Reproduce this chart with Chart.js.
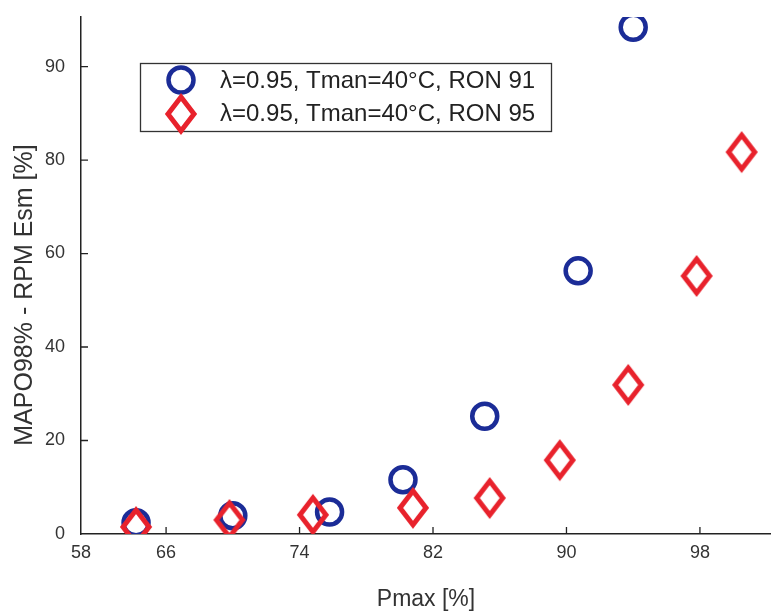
<!DOCTYPE html>
<html>
<head>
<meta charset="utf-8">
<script src="https://cdn.jsdelivr.net/npm/chart.js@4.4.0/dist/chart.umd.min.js"></script>
<style>
  html, body { margin: 0; padding: 0; background: #fff; }
  #wrap { width: 771px; height: 615px; }
</style>
</head>
<body>
<div id="wrap"><canvas id="knockChart" width="771" height="615"></canvas></div>
<script>
// values (x = Pmax %, y = MAPO98% - RPM Esm %)
const ron91Pmax = [64.2, 70.0, 75.8, 80.2, 85.1, 90.7, 94.0];
const ron91Esm = [2.4, 3.9, 4.7, 11.6, 25.2, 56.3, 108.4];
const ron95Pmax = [64.2, 69.8, 74.8, 80.8, 85.4, 89.6, 93.7, 97.8, 100.5];
const ron95Esm = [1.5, 3.0, 4.1, 5.6, 7.7, 15.8, 31.9, 55.2, 81.7];

// tick labels as printed on the original axes
const xTickValues = [60.9, 66, 74, 82, 90, 98];
const xTickLabels = ['58', '66', '74', '82', '90', '98'];
const yTickValues = [0, 20, 40, 60, 80, 100];
const yTickLabels = ['0', '20', '40', '60', '80', '90'];

const seriesLabels = ['λ=0.95, Tman=40°C, RON 91', 'λ=0.95, Tman=40°C, RON 95'];
const yTitle = 'MAPO98% - RPM Esm [%]';

const BLUE = '#1b2c97';
const RED = '#e8222c';
const FONT = '"Liberation Sans", Arial, sans-serif';

// tall hollow diamond used as point style
function makeDiamond(w, h, lw, color) {
    const c = document.createElement('canvas');
    c.width = w;
    c.height = h;
    const g = c.getContext('2d');
    g.strokeStyle = color;
    g.lineWidth = lw;
    g.lineJoin = 'miter';
    g.beginPath();
    g.moveTo(w / 2, 5);
    g.lineTo(w - 4, h / 2);
    g.lineTo(w / 2, h - 5);
    g.lineTo(4, h / 2);
    g.closePath();
    g.stroke();
    return c;
}
const diamond = makeDiamond(34, 44, 5, RED);

function toPoints(xs, ys) {
    return xs.map((x, i) => ({ x: x, y: ys[i] }));
}

// tick marks pointing into the plot + rotated y title
const inwardTicks = {
    id: 'inwardTicks',
    beforeDatasetsDraw(chart) {
        const { ctx, chartArea, scales } = chart;
        ctx.save();
        ctx.strokeStyle = '#222';
        ctx.lineWidth = 1.3;
        ctx.beginPath();
        xTickValues.slice(1).forEach(v => {
            const px = scales.x.getPixelForValue(v);
            ctx.moveTo(px, chartArea.bottom);
            ctx.lineTo(px, chartArea.bottom - 7);
        });
        yTickValues.slice(1).forEach(v => {
            const py = scales.y.getPixelForValue(v);
            ctx.moveTo(chartArea.left, py);
            ctx.lineTo(chartArea.left + 7, py);
        });
        ctx.stroke();

        ctx.translate(25, 295);
        ctx.rotate(-Math.PI / 2);
        ctx.fillStyle = '#333';
        ctx.font = '25px ' + FONT;
        ctx.textAlign = 'center';
        ctx.textBaseline = 'middle';
        ctx.fillText(yTitle, 0, 0);
        ctx.restore();
    }
};

// boxed legend inside the plot, top left
const boxLegend = {
    id: 'boxLegend',
    afterDraw(chart) {
        const ctx = chart.ctx;
        ctx.save();
        ctx.fillStyle = '#fff';
        ctx.fillRect(140.5, 63.5, 411, 68);
        ctx.strokeStyle = '#333';
        ctx.lineWidth = 1.3;
        ctx.strokeRect(140.5, 63.5, 411, 68);

        ctx.strokeStyle = BLUE;
        ctx.lineWidth = 4.5;
        ctx.beginPath();
        ctx.arc(181, 80, 12.5, 0, Math.PI * 2);
        ctx.stroke();
        ctx.drawImage(diamond, 181 - diamond.width / 2, 114 - diamond.height / 2);

        ctx.fillStyle = '#222';
        ctx.font = '24px ' + FONT;
        ctx.textBaseline = 'middle';
        ctx.fillText(seriesLabels[0], 220, 81);
        ctx.fillText(seriesLabels[1], 220, 114);
        ctx.restore();
    }
};

const ctx = document.getElementById('knockChart').getContext('2d');

const knockChart = new Chart(ctx, {
    type: 'scatter',
    data: {
        datasets: [{
            label: seriesLabels[0],
            data: toPoints(ron91Pmax, ron91Esm),
            pointStyle: 'circle',
            pointRadius: 12.5,
            pointHoverRadius: 12.5,
            borderWidth: 4.5,
            borderColor: BLUE,
            backgroundColor: 'rgba(0,0,0,0)',
            order: 1
        }, {
            label: seriesLabels[1],
            data: toPoints(ron95Pmax, ron95Esm),
            pointStyle: diamond,
            pointRadius: 17,
            order: 0
        }]
    },
    options: {
        responsive: false,
        animation: false,
        layout: {
            autoPadding: false,
            padding: { top: 17, right: 0, bottom: 0, left: 0 }
        },
        plugins: {
            legend: { display: false },
            tooltip: { enabled: false }
        },
        scales: {
            x: {
                type: 'linear',
                min: 60.9,
                max: 102.26,
                afterBuildTicks: scale => {
                    scale.ticks = xTickValues.map(v => ({ value: v }));
                },
                afterFit: scale => {
                    scale.height = 81;
                    scale.paddingLeft = 0;
                    scale.paddingRight = 0;
                },
                ticks: {
                    callback: (value, index) => xTickLabels[index],
                    color: '#333',
                    font: { family: FONT, size: 18 },
                    padding: 8,
                    maxRotation: 0,
                    autoSkip: false
                },
                grid: { display: false, drawTicks: false, tickLength: 0 },
                border: { display: true, color: '#222', width: 1.5 },
                title: {
                    display: true,
                    text: 'Pmax [%]',
                    color: '#333',
                    font: { family: FONT, size: 23 },
                    padding: { top: 0, bottom: 2 }
                }
            },
            y: {
                type: 'linear',
                min: 0,
                max: 110.6,
                afterBuildTicks: scale => {
                    scale.ticks = yTickValues.map(v => ({ value: v }));
                },
                afterFit: scale => {
                    scale.width = 81;
                    scale.paddingTop = 0;
                    scale.paddingBottom = 0;
                },
                ticks: {
                    callback: (value, index) => yTickLabels[index],
                    color: '#333',
                    font: { family: FONT, size: 18 },
                    padding: 16,
                    autoSkip: false
                },
                grid: { display: false, drawTicks: false, tickLength: 0 },
                border: { display: true, color: '#222', width: 1.5 },
                title: { display: false }
            }
        }
    },
    plugins: [inwardTicks, boxLegend]
});
</script>
</body>
</html>
